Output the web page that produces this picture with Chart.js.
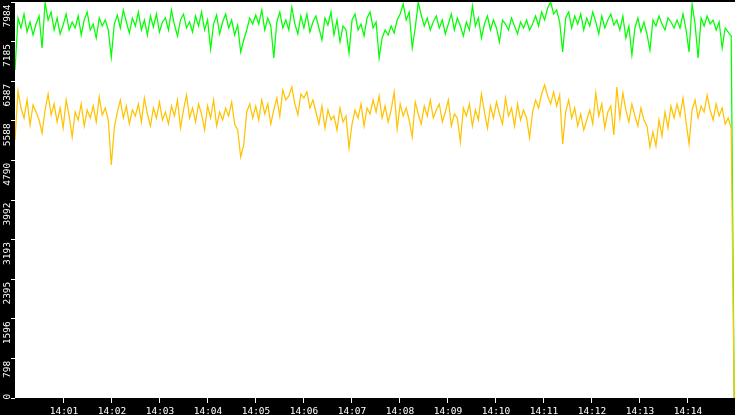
<!DOCTYPE html>
<html><head><meta charset="utf-8">
<style>html,body{margin:0;padding:0;background:#000;overflow:hidden}canvas{display:block}</style>
<script src="https://cdn.jsdelivr.net/npm/chart.js@4.4.1/dist/chart.umd.min.js"></script>
</head><body>
<canvas id="c" width="735" height="415"></canvas>
<script>
const xTickLabels = ["14:01","14:02","14:03","14:04","14:05","14:06","14:07","14:08","14:09","14:10","14:11","14:12","14:13","14:14"];
const xTickSeconds = [60,120,180,240,300,360,420,480,540,600,660,720,780,840];
const yTickLabels = ["0","798","1596","2395","3193","3992","4790","5588","6387","7185","7984"];
const yTickValues = [0,798.4,1596.8,2395.2,3193.6,3992,4790.4,5588.8,6387.2,7185.6,7984];
const sampleStep = 899/239; // seconds between samples, starting 14:00:00

const greenValues = [6613,7661,7460,7742,7379,7581,7319,7540,7702,7057,
7980,7621,7782,7420,7661,7339,7520,7742,7420,7581,
7460,7702,7319,7621,7782,7420,7540,7258,7661,7500,
7621,7420,6875,7540,7722,7460,7823,7581,7359,7661,
7500,7782,7420,7621,7319,7702,7480,7742,7379,7581,
7661,7420,7823,7520,7299,7621,7742,7460,7581,7379,
7702,7500,7782,7420,7621,7036,7540,7722,7339,7581,
7742,7460,7621,7319,7520,6976,7218,7420,7661,7540,
7722,7540,7823,7420,7661,7500,6855,7581,7782,7460,
7621,7420,7883,7540,7339,7702,7460,7742,7379,7581,
7702,7460,7218,7661,7520,7782,7319,7621,7178,7500,
7420,6956,7621,7742,7420,7540,7299,7661,7782,7460,
7581,6855,7258,7420,7319,7500,7359,7621,7742,7944,
7621,7782,7057,7460,7980,7722,7500,7661,7420,7581,
7702,7460,7621,7339,7540,7742,7420,7661,7500,7299,
7581,7420,7903,7500,7661,7258,7540,7702,7420,7621,
7460,7178,7621,7540,7420,7661,7500,7339,7581,7460,
7621,7420,7540,7702,7500,7782,7621,7863,7984,7742,
7823,7581,6976,7661,7782,7460,7702,7540,7742,7420,
7661,7500,7782,7581,7339,7702,7460,7621,7742,7520,
7621,7420,7702,7258,7500,6915,7460,7661,7379,7581,
7339,7016,7621,7500,7702,7540,7420,7661,7581,7460,
7621,7460,7742,7420,6976,7944,7540,6855,7661,7500,
7702,7540,7621,7420,7581,7057,7460,7379,7299,0];

const yellowValues = [5202,6190,5847,5645,6008,5504,5907,5766,5605,5343,
5807,6129,5706,5928,5565,5847,5444,6008,5686,5262,
5766,5605,5928,5484,5807,5645,5887,5565,6069,5706,
5847,5605,4698,5444,5766,6008,5645,5887,5524,5807,
5686,5928,5565,6049,5726,5484,5847,5645,5968,5605,
5766,5524,5887,5686,6008,5444,5807,6109,5645,5847,
5565,5928,5726,5403,5887,5645,6008,5484,5766,5605,
5847,5686,5968,5524,5403,4859,5101,5766,5928,5645,
5887,5605,6008,5726,5928,5524,5807,6049,5686,6210,
6008,6089,6270,5928,5706,6129,6049,6170,5847,6008,
5766,5524,5887,5444,5807,5605,5686,5403,5847,5565,
5686,5041,5524,5807,5645,5928,5484,5847,5726,6008,
5766,6089,5645,5887,5565,5807,6170,5423,5928,5686,
5847,5605,5262,5968,5726,5524,5887,5686,6008,5645,
5807,5928,5565,5766,6008,5484,5726,5645,5162,5847,
5686,5928,5484,5807,5605,6129,5766,5444,5887,5645,
5968,5726,5524,6049,5686,5847,5484,5928,5605,5807,
5645,5242,5766,6008,5847,6129,6311,6089,5928,6170,
5887,6109,5121,5766,6008,5645,5847,5484,5726,5403,
5605,5807,5524,6149,5686,5928,5444,5766,5887,5302,
6270,5645,6149,5807,5565,5928,5686,5484,5847,5605,
5484,5061,5363,5081,5605,5282,5766,5444,5887,5645,
5928,5686,6049,5565,5121,5807,6008,5645,5887,5766,
6109,5807,5605,5928,5686,5847,5524,5645,5444,0];

const toPoints = vals => vals.map((v,i)=>({x:i*sampleStep, y:v}));

const frame = {
  id:'frame',
  beforeDraw(chart){
    const {ctx, chartArea:a} = chart;
    ctx.save();
    ctx.fillStyle='#000'; ctx.fillRect(0,0,chart.width,chart.height);
    ctx.fillStyle='#fff'; ctx.fillRect(a.left,a.top,a.right-a.left,a.bottom-a.top);
    ctx.restore();
  },
  afterDraw(chart){
    const ctx=chart.ctx, xs=chart.scales.x, ys=chart.scales.y;
    ctx.save();
    ctx.fillStyle='#fff';
    ctx.font='9.5px "DejaVu Sans Mono"';
    ctx.textAlign='center'; ctx.textBaseline='alphabetic';
    xTickSeconds.forEach((s,i)=>ctx.fillText(xTickLabels[i], xs.getPixelForValue(s)+1, 414));
    yTickValues.forEach((v,i)=>{
      const py=ys.getPixelForValue(v);
      ctx.save(); ctx.translate(9.5, py); ctx.rotate(-Math.PI/2);
      if(i===0){ ctx.textAlign='left'; ctx.fillText(yTickLabels[i], -1.5, 0); }
      else { ctx.textAlign='right'; ctx.fillText(yTickLabels[i], -2.5, 0); }
      ctx.restore();
    });
    ctx.restore();
  }
};

new Chart(document.getElementById('c'), {
  type:'line',
  data:{datasets:[
    {label:'B', data:toPoints(yellowValues), borderColor:'#ffc300', borderWidth:1.25, pointRadius:0, tension:0, fill:false},
    {label:'A', data:toPoints(greenValues), borderColor:'#00ff00', borderWidth:1.25, pointRadius:0, tension:0, fill:false}
  ]},
  options:{
    responsive:false, animation:false, devicePixelRatio:1,
    layout:{padding:{top:2,left:0,right:0,bottom:0}},
    plugins:{legend:{display:false}, tooltip:{enabled:false}},
    scales:{
      x:{type:'linear', min:0, max:900,
        afterBuildTicks(s){ s.ticks = xTickSeconds.map(v=>({value:v})); },
        ticks:{display:false},
        grid:{drawOnChartArea:false, drawTicks:true, tickLength:5, tickColor:'#fff', color:'#fff'},
        border:{display:false},
        afterFit(s){ s.height=17; }
      },
      y:{type:'linear', min:0, max:7984,
        afterBuildTicks(s){ s.ticks = yTickValues.map(v=>({value:v})); },
        ticks:{display:false},
        grid:{drawOnChartArea:false, drawTicks:true, tickLength:4, tickColor:'#fff', color:'#fff'},
        border:{display:false},
        afterFit(s){ s.width=15; }
      }
    }
  },
  plugins:[frame]
});
</script>
</body></html>
